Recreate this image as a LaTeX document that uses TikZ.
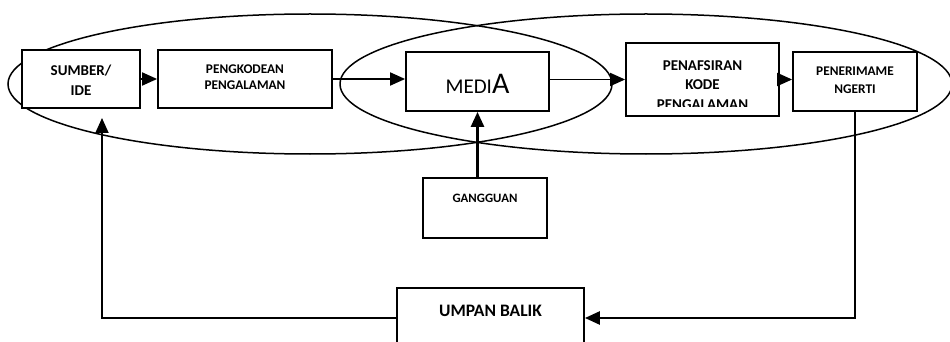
\documentclass[tikz,border=0pt]{standalone}
\usepackage{fontspec}
\setmainfont{Carlito}
\usetikzlibrary{arrows.meta}
\begin{document}
\begin{tikzpicture}[x=1pt,y=-1pt,
  box/.style={draw, line width=1.8pt, fill=white, inner sep=0pt},
  lb/.style={inner sep=0pt, anchor=base},
  arr/.style={line width=1.9pt, -{Triangle[length=15pt,width=13pt]}},
  ell/.style={line width=1.5pt}]
\clip (0,0) rectangle (950,342);
% ellipses
\draw[ell] (310,84) ellipse [x radius=302pt, y radius=70pt];
\draw[ell] (646,84) ellipse [x radius=306pt, y radius=70pt];
% boxes
\node[box, minimum width=118pt, minimum height=58pt] (sumber) at (81,79) {};
\node[box, minimum width=174pt, minimum height=58pt] (pengk) at (245,79) {};
\node[box, minimum width=143pt, minimum height=59pt] (media) at (477.5,81.5) {};
\node[box, minimum width=153pt, minimum height=73pt] (penaf) at (702.5,79.5) {};
\node[box, minimum width=124pt, minimum height=59pt] (pener) at (855,81.5) {};
\node[box, minimum width=124pt, minimum height=60pt] (gang) at (485,208) {};
\node[box, minimum width=187pt, minimum height=60pt] (umpan) at (490.5,318) {};
% labels
\node[lb, font=\fontsize{15}{18}\selectfont\bfseries] (sumberA) at (81,76) {SUMBER/};
\node[lb, font=\fontsize{15}{18}\selectfont\bfseries] (sumberB) at (81,95.7) {IDE};
\node[lb, font=\fontsize{13.3}{16}\selectfont\bfseries] (pengkA) at (245,74) {PENGKODEAN};
\node[lb, font=\fontsize{13.3}{16}\selectfont\bfseries] (pengkB) at (245,89.3) {PENGALAMAN};
\node[lb] (mediaT) at (477.5,94) {\fontsize{21}{24}\selectfont MEDI\fontsize{30}{34}\selectfont A};
\begin{scope}
\clip (626,43) rectangle (779,106.5);
\node[lb, font=\fontsize{15}{18}\selectfont\bfseries] (penafA) at (702.5,70.7) {PENAFSIRAN};
\node[lb, font=\fontsize{15}{18}\selectfont\bfseries] (penafB) at (702.5,89.3) {KODE};
\node[lb, font=\fontsize{15}{18}\selectfont\bfseries] (penafC) at (702.5,109.5) {PENGALAMAN};
\end{scope}
\node[lb, font=\fontsize{13.3}{16}\selectfont\bfseries] (penerA) at (855,75.3) {PENERIMAME};
\node[lb, font=\fontsize{13.3}{16}\selectfont\bfseries] (penerB) at (855,94) {NGERTI};
\node[lb, font=\fontsize{12.8}{15}\selectfont\bfseries] (gangT) at (485,202) {GANGGUAN};
\node[lb, font=\fontsize{17.5}{20}\selectfont\bfseries] (umpanT) at (490.5,316) {UMPAN BALIK};
% connectors
\coordinate (fbend) at (102,118);
\draw[arr] (sumber.east) -- (pengk.west);
\draw[arr] (pengk.east) -- (pengk.east -| media.west);
\draw[arr] (penaf.west -| media.east) -- (penaf.west);
\draw[arr] (penaf.east) -- (penaf.east -| pener.west);
\draw[arr, line width=2.6pt] (media.south |- gang.north) -- (media.south);
\draw[arr, line width=2.6pt] (pener.south) |- (umpan.east);
\draw[arr] (umpan.west) -| (fbend);
\end{tikzpicture}
\end{document}
